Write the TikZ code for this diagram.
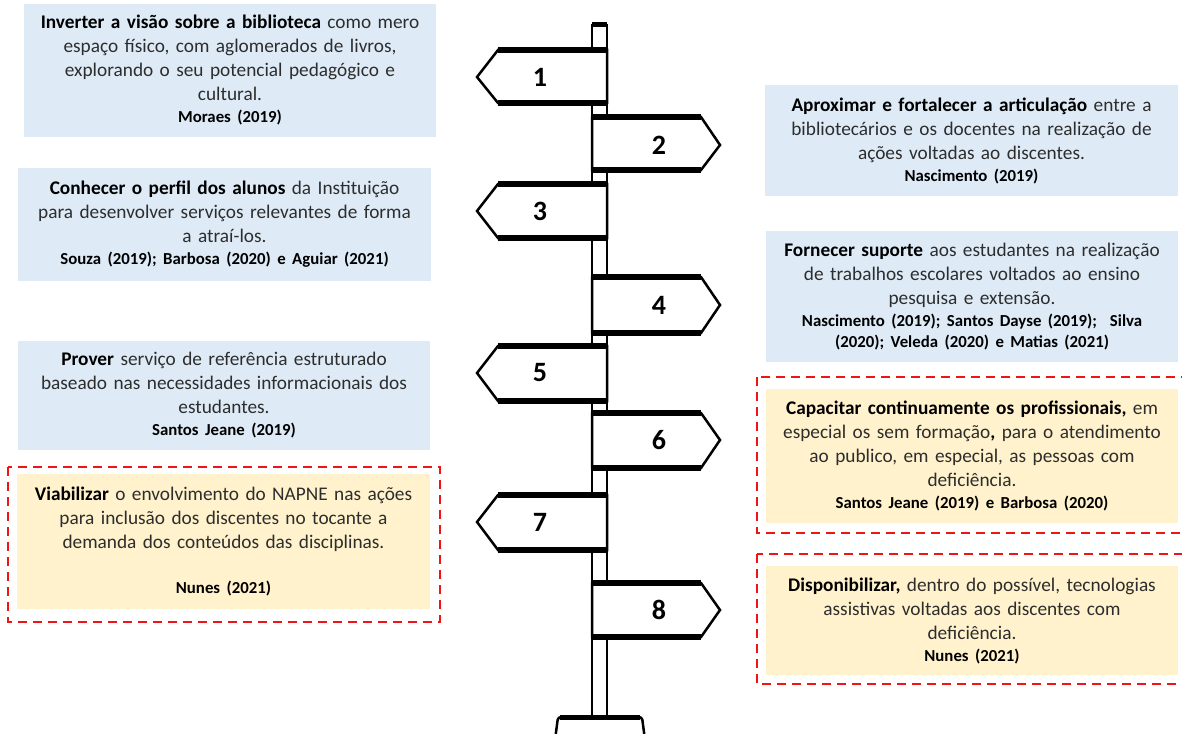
\documentclass[tikz,border=0pt]{standalone}
\usepackage{fontspec}
\setmainfont{Carlito}
\definecolor{boxblue}{RGB}{222,235,247}
\definecolor{boxyellow}{RGB}{255,242,204}
\definecolor{dashred}{RGB}{240,20,20}
\definecolor{txt}{RGB}{45,45,45}
\newcommand{\refl}[1]{{\fontsize{16.8}{22}\selectfont\bfseries\color{black}#1}}
\newcommand{\hb}[1]{{\bfseries\color{black}#1}}
\newcommand{\signL}[3]{%
  \filldraw[fill=white, line width=2.5pt, line join=miter] (607,#1) -- (498,#1) -- (477,#2) -- (498,#3) -- (607,#3) -- cycle;
  \draw[line width=5.5pt] (498,#1) -- (607,#1);
  \draw[line width=5.5pt] (498,#3) -- (607,#3);
}
\newcommand{\signR}[3]{%
  \filldraw[fill=white, line width=2.5pt, line join=miter] (592,#1) -- (701,#1) -- (720,#2) -- (701,#3) -- (592,#3) -- cycle;
  \draw[line width=5.5pt] (592,#1) -- (701,#1);
  \draw[line width=5.5pt] (592,#3) -- (701,#3);
}
\tikzset{
  textbox/.style={inner sep=0pt, align=center, text=txt,
    font=\fontsize{19.3}{24}\selectfont},
  bluebox/.style={textbox, fill=boxblue},
  yellowbox/.style={textbox, fill=boxyellow},
  redframe/.style={draw=dashred, line width=2pt, dash pattern=on 9pt off 6pt},
  signnum/.style={font=\fontsize{28}{28}\selectfont\bfseries, text=black, inner sep=0pt},
}
\begin{document}
\begin{tikzpicture}[x=1pt,y=-1pt]
\clip (0,0) rectangle (1182,733);
\fill[white] (0,0) rectangle (1182,733);

% text boxes
\node[bluebox, minimum width=412pt, minimum height=133pt, text width=408pt] (b1) at (230,70.5)
 {\hb{Inverter a visão sobre a biblioteca} como mero\\ espaço físico, com aglomerados de livros,\\ explorando o seu potencial pedagógico e\\ cultural.\\[-2pt] \refl{Moraes (2019)}};
\node[bluebox, minimum width=413pt, minimum height=111pt, text width=409pt] (b2) at (971.5,140.5)
 {\hb{Aproximar e fortalecer a articulação} entre a\\ bibliotecários e os docentes na realização de\\ ações voltadas ao discentes.\\[-2pt] \refl{Nascimento (2019)}};
\node[bluebox, minimum width=413pt, minimum height=113pt, text width=409pt] (b3) at (224.5,224.5)
 {\hb{Conhecer o perfil dos alunos} da Instituição\\ para desenvolver serviços relevantes de forma\\ a atraí-los.\\[-2pt] \refl{Souza (2019); Barbosa (2020) e Aguiar (2021)}};
\node[bluebox, minimum width=412pt, minimum height=131pt, text width=408pt] (b4) at (972,296.5)
 {\hb{Fornecer suporte} aos estudantes na realização\\ de trabalhos escolares voltados ao ensino\\ pesquisa e extensão.\\[-2pt] \refl{Nascimento (2019); Santos Dayse (2019);\ \ Silva}\\[-3pt] \refl{(2020); Veleda (2020) e Matias (2021)}};
\node[bluebox, minimum width=412pt, minimum height=109pt, text width=408pt] (b5) at (224,395.5)
 {\hb{Prover} serviço de referência estruturado\\ baseado nas necessidades informacionais dos\\ estudantes.\\[-2pt] \refl{Santos Jeane (2019)}};
\node[yellowbox, minimum width=412pt, minimum height=134pt, text width=408pt] (b6) at (972,456)
 {\hb{Capacitar continuamente os profissionais,} em\\ especial os sem formação\hb{,} para o atendimento\\ ao publico, em especial, as pessoas com\\ deficiência.\\[-2pt] \refl{Santos Jeane (2019) e Barbosa (2020)}};
\node[yellowbox, minimum width=413pt, minimum height=135pt, text width=409pt] (b7) at (223.5,541.5)
 {\hb{Viabilizar} o envolvimento do NAPNE nas ações\\ para inclusão dos discentes no tocante a\\ demanda dos conteúdos das disciplinas.\\[21pt] \refl{Nunes (2021)}};
\node[yellowbox, minimum width=412pt, minimum height=109pt, text width=408pt] (b8) at (972,620.5)
 {\hb{Disponibilizar,} dentro do possível, tecnologias\\ assistivas voltadas aos discentes com\\ deficiência.\\[-2pt] \refl{Nunes (2021)}};

% dashed frames
\draw[redframe] (8,467) rectangle (440,622);
\draw[redframe] (757,377) rectangle (1200,533);
\draw[redframe] (757,554) rectangle (1200,684);

% signpost pole
\filldraw[fill=white, line width=2.5pt] (592,25) rectangle (607,716);
\draw[line width=5pt] (592,25) -- (607,25);

% signs
\signL{50}{77}{103}
\signR{117}{145}{170}
\signL{184}{211}{238}
\signR{277}{305}{333}
\signL{346}{373}{401}
\signR{413}{440}{468}
\signL{495}{522}{550}
\signR{583}{610}{637}

% base
\filldraw[fill=white, line width=2.5pt, rounded corners=3pt] (555,740) -- (558,717) -- (642,717) -- (645,740);
\draw[line width=5pt] (560,717) -- (640,717);

% numbers
\node[signnum] (n1) at (540,77) {1};
\node[signnum] (n2) at (659,145) {2};
\node[signnum] (n3) at (540,211) {3};
\node[signnum] (n4) at (659,305) {4};
\node[signnum] (n5) at (540,373) {5};
\node[signnum] (n6) at (659,440) {6};
\node[signnum] (n7) at (540,522) {7};
\node[signnum] (n8) at (659,610) {8};
\end{tikzpicture}
\end{document}
